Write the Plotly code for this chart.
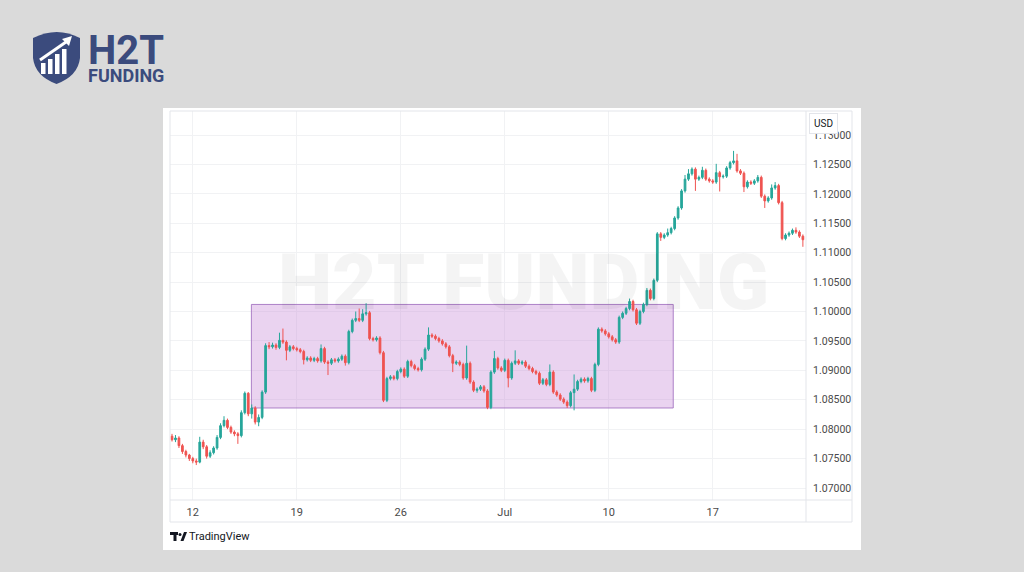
import plotly.graph_objects as go

# ---------------- data (EUR/USD, 4h candles) ----------------
opens = [1.0788,1.0782,1.0785,1.0772,1.0762,1.0756,1.0750,1.0746,1.0744,1.0778,
         1.0770,1.0754,1.0760,1.0768,1.0786,1.0806,1.0815,1.0803,1.0795,1.0792,
         1.0789,1.0828,1.0861,1.0826,1.0836,1.0812,1.0820,1.0863,1.0942,1.0940,
         1.0943,1.0939,1.0951,1.0948,1.0934,1.0940,1.0937,1.0935,1.0932,1.0918,
         1.0921,1.0917,1.0920,1.0916,1.0937,1.0914,1.0912,1.0918,1.0916,1.0919,
         1.0924,1.0913,1.0966,1.0985,1.0988,1.0985,1.0996,1.0998,1.0954,1.0952,
         1.0955,1.0930,1.0849,1.0886,1.0889,1.0886,1.0898,1.0902,1.0890,1.0915,
         1.0908,1.0903,1.0901,1.0919,1.0936,1.0960,1.0958,1.0954,1.0950,1.0945,
         1.0940,1.0925,1.0912,1.0914,1.0910,1.0887,1.0912,1.0880,1.0866,1.0868,
         1.0872,1.0865,1.0837,1.0897,1.0920,1.0904,1.0900,1.0917,1.0887,1.0912,
         1.0916,1.0912,1.0914,1.0907,1.0903,1.0898,1.0895,1.0878,1.0884,1.0876,
         1.0897,1.0863,1.0858,1.0851,1.0846,1.0840,1.0862,1.0868,1.0881,1.0885,
         1.0882,1.0886,1.0866,1.0910,1.0970,1.0967,1.0962,1.0957,1.0952,1.0948,
         1.0990,1.0997,1.1005,1.1017,1.1003,1.0980,1.1000,1.1012,1.1036,1.1022,
         1.1053,1.1132,1.1126,1.1130,1.1134,1.1141,1.1159,1.1176,1.1205,1.1225,
         1.1234,1.1242,1.1225,1.1228,1.1240,1.1225,1.1222,1.1220,1.1236,1.1229,
         1.1230,1.1244,1.1253,1.1256,1.1239,1.1235,1.1212,1.1220,1.1218,1.1222,
         1.1228,1.1196,1.1188,1.1193,1.1210,1.1214,1.1185,1.1124,1.1130,1.1133,
         1.1138,1.1135,1.1128]
highs = [1.0792,1.0790,1.0788,1.0775,1.0765,1.0758,1.0753,1.0750,1.0787,1.0782,
         1.0773,1.0764,1.0771,1.0790,1.0810,1.0822,1.0818,1.0806,1.0798,1.0795,
         1.0832,1.0864,1.0863,1.0842,1.0839,1.0825,1.0866,1.0946,1.0948,1.0947,
         1.0946,1.0964,1.0971,1.0951,1.0943,1.0943,1.0940,1.0938,1.0935,1.0924,
         1.0924,1.0923,1.0923,1.0944,1.0940,1.0917,1.0921,1.0921,1.0922,1.0927,
         1.0927,1.0969,1.0988,1.1000,1.1005,1.1004,1.1014,1.1001,1.0957,1.0958,
         1.0958,1.0933,1.0889,1.0892,1.0892,1.0901,1.0905,1.0905,1.0918,1.0918,
         1.0911,1.0906,1.0922,1.0939,1.0973,1.0963,1.0961,1.0957,1.0953,1.0948,
         1.0943,1.0928,1.0917,1.0917,1.0913,1.0942,1.0915,1.0883,1.0871,1.0875,
         1.0875,1.0868,1.0900,1.0933,1.0923,1.0907,1.0920,1.0920,1.0915,1.0934,
         1.0919,1.0917,1.0917,1.0910,1.0906,1.0901,1.0898,1.0887,1.0887,1.0910,
         1.0900,1.0866,1.0861,1.0854,1.0849,1.0865,1.0893,1.0884,1.0888,1.0888,
         1.0889,1.0889,1.0913,1.0973,1.0973,1.0970,1.0965,1.0960,1.0955,1.0993,
         1.1000,1.1008,1.1022,1.1020,1.1006,1.1003,1.1015,1.1040,1.1039,1.1056,
         1.1135,1.1135,1.1133,1.1141,1.1144,1.1162,1.1179,1.1208,1.1232,1.1242,
         1.1245,1.1245,1.1231,1.1246,1.1243,1.1228,1.1225,1.1251,1.1239,1.1233,
         1.1247,1.1256,1.1273,1.1268,1.1242,1.1238,1.1223,1.1223,1.1225,1.1232,
         1.1231,1.1199,1.1196,1.1216,1.1220,1.1217,1.1188,1.1133,1.1136,1.1141,
         1.1143,1.1138,1.1131]
lows = [1.0779,1.0778,1.0768,1.0758,1.0752,1.0746,1.0742,1.0739,1.0742,1.0766,
        1.0750,1.0751,1.0757,1.0765,1.0783,1.0803,1.0800,1.0792,1.0788,1.0775,
        1.0786,1.0825,1.0822,1.0818,1.0808,1.0805,1.0817,1.0860,1.0936,1.0937,
        1.0935,1.0936,1.0945,1.0917,1.0931,1.0934,1.0932,1.0929,1.0910,1.0915,
        1.0914,1.0914,1.0913,1.0913,1.0911,1.0892,1.0909,1.0913,1.0913,1.0916,
        1.0908,1.0910,1.0963,1.0982,1.0982,1.0982,1.0993,1.0951,1.0949,1.0949,
        1.0927,1.0846,1.0846,1.0883,1.0883,1.0883,1.0895,1.0887,1.0887,1.0905,
        1.0900,1.0898,1.0898,1.0916,1.0933,1.0955,1.0951,1.0947,1.0942,1.0937,
        1.0922,1.0897,1.0909,1.0907,1.0884,1.0884,1.0877,1.0863,1.0862,1.0865,
        1.0862,1.0834,1.0834,1.0894,1.0901,1.0897,1.0897,1.0871,1.0884,1.0909,
        1.0909,1.0909,1.0904,1.0900,1.0895,1.0892,1.0875,1.0875,1.0873,1.0873,
        1.0860,1.0855,1.0848,1.0843,1.0836,1.0837,1.0832,1.0865,1.0878,1.0879,
        1.0879,1.0863,1.0863,1.0907,1.0964,1.0959,1.0954,1.0949,1.0945,1.0945,
        1.0987,1.0994,1.1002,1.1000,1.0977,1.0977,1.0997,1.1009,1.1019,1.1019,
        1.1050,1.1120,1.1123,1.1127,1.1131,1.1138,1.1156,1.1173,1.1202,1.1222,
        1.1231,1.1205,1.1222,1.1225,1.1222,1.1219,1.1217,1.1217,1.1204,1.1226,
        1.1227,1.1241,1.1250,1.1236,1.1232,1.1203,1.1209,1.1215,1.1215,1.1219,
        1.1193,1.1176,1.1185,1.1190,1.1207,1.1182,1.1121,1.1121,1.1127,1.1130,
        1.1132,1.1125,1.1110]
closes = [1.0782,1.0785,1.0772,1.0762,1.0756,1.0750,1.0746,1.0744,1.0778,1.0770,
          1.0754,1.0760,1.0768,1.0786,1.0806,1.0815,1.0803,1.0795,1.0792,1.0789,
          1.0828,1.0861,1.0826,1.0836,1.0812,1.0820,1.0863,1.0942,1.0940,1.0943,
          1.0939,1.0951,1.0948,1.0934,1.0940,1.0937,1.0935,1.0932,1.0918,1.0921,
          1.0917,1.0920,1.0916,1.0937,1.0914,1.0912,1.0918,1.0916,1.0919,1.0924,
          1.0913,1.0966,1.0985,1.0988,1.0985,1.0996,1.0998,1.0954,1.0952,1.0955,
          1.0930,1.0849,1.0886,1.0889,1.0886,1.0898,1.0902,1.0890,1.0915,1.0908,
          1.0903,1.0901,1.0919,1.0936,1.0960,1.0958,1.0954,1.0950,1.0945,1.0940,
          1.0925,1.0912,1.0914,1.0910,1.0887,1.0912,1.0880,1.0866,1.0868,1.0872,
          1.0865,1.0837,1.0897,1.0920,1.0904,1.0900,1.0917,1.0887,1.0912,1.0916,
          1.0912,1.0914,1.0907,1.0903,1.0898,1.0895,1.0878,1.0884,1.0876,1.0897,
          1.0863,1.0858,1.0851,1.0846,1.0840,1.0862,1.0868,1.0881,1.0885,1.0882,
          1.0886,1.0866,1.0910,1.0970,1.0967,1.0962,1.0957,1.0952,1.0948,1.0990,
          1.0997,1.1005,1.1017,1.1003,1.0980,1.1000,1.1012,1.1036,1.1022,1.1053,
          1.1132,1.1126,1.1130,1.1134,1.1141,1.1159,1.1176,1.1205,1.1225,1.1234,
          1.1242,1.1225,1.1228,1.1240,1.1225,1.1222,1.1220,1.1236,1.1229,1.1230,
          1.1244,1.1253,1.1256,1.1239,1.1235,1.1212,1.1220,1.1218,1.1222,1.1228,
          1.1196,1.1188,1.1193,1.1210,1.1214,1.1185,1.1124,1.1130,1.1133,1.1138,
          1.1135,1.1128,1.1122]
bar_index = list(range(len(closes)))

x_tick_positions = [6, 36, 66, 96, 126, 156]
x_tick_labels = ["12", "19", "26", "Jul", "10", "17"]
y_tick_values = [1.070, 1.075, 1.080, 1.085, 1.090, 1.095, 1.100,
                 1.105, 1.110, 1.115, 1.120, 1.125, 1.130]

# consolidation range drawn on the chart
range_x0, range_x1 = 22.9, 144.6
range_y0, range_y1 = 1.0836, 1.1012

# ---------------- layout helpers (pixel -> paper) ----------------
W, H = 1024, 572
L, R, T, B = 170, 806, 111, 500


def px(x):
    return (x - L) / (R - L)


def py(y):
    return (B - y) / (B - T)


def path(points, close=True):
    s = "M " + " L ".join(f"{px(x):.5f},{py(y):.5f}" for x, y in points)
    return s + (" Z" if close else "")


GREEN = "#26a69a"
RED = "#ef5350"
NAVY = "#3b4b7d"
FRAME = "#e3e5ea"
GRID = "#f1f2f4"

fig = go.Figure(go.Candlestick(
    x=bar_index, open=opens, high=highs, low=lows, close=closes,
    increasing=dict(line=dict(color=GREEN, width=1), fillcolor=GREEN),
    decreasing=dict(line=dict(color=RED, width=1), fillcolor=RED),
    whiskerwidth=0, showlegend=False, hoverinfo="skip",
))

shapes = []
# white chart panel
shapes.append(dict(type="rect", xref="paper", yref="paper", layer="below",
                   x0=px(163), x1=px(861), y0=py(550), y1=py(108),
                   fillcolor="white", line=dict(width=0)))
# frame lines
for (x0, y0, x1, y1) in [(170, 111, 852, 111), (170, 522, 852, 522),
                         (170, 111, 170, 522), (852, 111, 852, 522),
                         (806, 111, 806, 522), (170, 500, 852, 500)]:
    shapes.append(dict(type="line", xref="paper", yref="paper", layer="above",
                       x0=px(x0), x1=px(x1), y0=py(y0), y1=py(y1),
                       line=dict(color=FRAME, width=1)))
# consolidation rectangle
shapes.append(dict(type="rect", xref="x", yref="y", layer="between",
                   x0=range_x0, x1=range_x1, y0=range_y0, y1=range_y1,
                   fillcolor="rgba(200,140,215,0.38)",
                   line=dict(color="rgba(160,110,190,0.85)", width=1)))

# H2T logo shield
shapes.append(dict(type="path", xref="paper", yref="paper", layer="above",
                   path=(f"M {px(33):.5f},{py(38):.5f} "
                         f"Q {px(57):.5f},{py(26):.5f} {px(80):.5f},{py(38):.5f} "
                         f"L {px(80):.5f},{py(58):.5f} "
                         f"Q {px(78):.5f},{py(76):.5f} {px(56.5):.5f},{py(84):.5f} "
                         f"Q {px(35):.5f},{py(76):.5f} {px(33):.5f},{py(58):.5f} Z"),
                   fillcolor=NAVY, line=dict(width=0)))
for (x0, y0, x1, y1) in [(41, 63, 45.5, 74), (48, 59, 52.5, 74),
                         (55, 54, 59.5, 74), (62, 49, 66.5, 74)]:
    shapes.append(dict(type="rect", xref="paper", yref="paper", layer="above",
                       x0=px(x0), x1=px(x1), y0=py(y1), y1=py(y0),
                       fillcolor="white", line=dict(width=0)))
shapes.append(dict(type="line", xref="paper", yref="paper", layer="above",
                   x0=px(40), y0=py(60), x1=px(66), y1=py(42),
                   line=dict(color="white", width=3)))
shapes.append(dict(type="path", xref="paper", yref="paper", layer="above",
                   path=path([(62, 39), (72, 36), (69, 46)]),
                   fillcolor="white", line=dict(width=0)))

# TradingView logo glyph
shapes.append(dict(type="rect", xref="paper", yref="paper", layer="above",
                   x0=px(170), x1=px(178), y0=py(535), y1=py(532),
                   fillcolor="#131722", line=dict(width=0)))
shapes.append(dict(type="rect", xref="paper", yref="paper", layer="above",
                   x0=px(173.5), x1=px(176.5), y0=py(541), y1=py(532),
                   fillcolor="#131722", line=dict(width=0)))
shapes.append(dict(type="circle", xref="paper", yref="paper", layer="above",
                   x0=px(178.5), x1=px(181.5), y0=py(536), y1=py(533),
                   fillcolor="#131722", line=dict(width=0)))
shapes.append(dict(type="path", xref="paper", yref="paper", layer="above",
                   path=path([(180.5, 541), (184, 532), (187, 532), (183.5, 541)]),
                   fillcolor="#131722", line=dict(width=0)))

annotations = [
    dict(text="H2T FUNDING", xref="paper", yref="paper", x=px(523), y=py(283),
         showarrow=False, font=dict(family="Roboto", size=77, weight=900,
                                    color="rgba(0,0,0,0.045)"),
         xanchor="center", yanchor="middle"),
    dict(text="USD", xref="paper", yref="paper", x=px(823), y=py(123.5),
         showarrow=False, font=dict(family="Roboto", size=10, color="#131722"),
         bgcolor="white", bordercolor=FRAME, borderwidth=1, borderpad=4,
         xanchor="center", yanchor="middle"),
    # logo word-mark as one two-line text
    dict(text=("<span style='font-size:40px'><b>H2T</b></span><br>"
               "<span style='font-size:18px'><b>FUNDING</b></span>"),
         xref="paper", yref="paper", x=px(86), y=py(56),
         showarrow=False, align="left",
         font=dict(family="Roboto", size=14, color=NAVY),
         xanchor="left", yanchor="middle"),
    dict(text="TradingView", xref="paper", yref="paper", x=px(187), y=py(536.5),
         showarrow=False, font=dict(family="Roboto", size=11, color="#131722"),
         xanchor="left", yanchor="middle"),
]

fig.update_layout(
    width=W, height=H, autosize=False,
    margin=dict(l=L, r=W - R, t=T, b=H - B, pad=0),
    paper_bgcolor="#dadada", plot_bgcolor="white",
    shapes=shapes, annotations=annotations,
    hovermode=False, showlegend=False,
    xaxis=dict(range=[-0.58, 182.9], tickvals=x_tick_positions, ticktext=x_tick_labels,
               showgrid=True, gridcolor=GRID, gridwidth=1, zeroline=False,
               showline=False, ticks="outside", ticklen=2, tickcolor="rgba(0,0,0,0)",
               tickfont=dict(family="Roboto", size=11, color="#4a4a4a"),
               rangeslider=dict(visible=False), fixedrange=True),
    yaxis=dict(range=[1.06796, 1.13408], side="right", tickvals=y_tick_values,
               tickformat=".5f", showgrid=True, gridcolor=GRID, gridwidth=1,
               zeroline=False, showline=False, ticks="outside", ticklen=4,
               tickcolor="rgba(0,0,0,0)",
               tickfont=dict(family="Roboto", size=10.5, color="#4a4a4a"),
               fixedrange=True),
)

fig.write_html("out.html",
               config={"displayModeBar": False, "staticPlot": True},
               post_script="document.body.style.margin='0';"
                           "document.body.style.overflow='hidden';")
